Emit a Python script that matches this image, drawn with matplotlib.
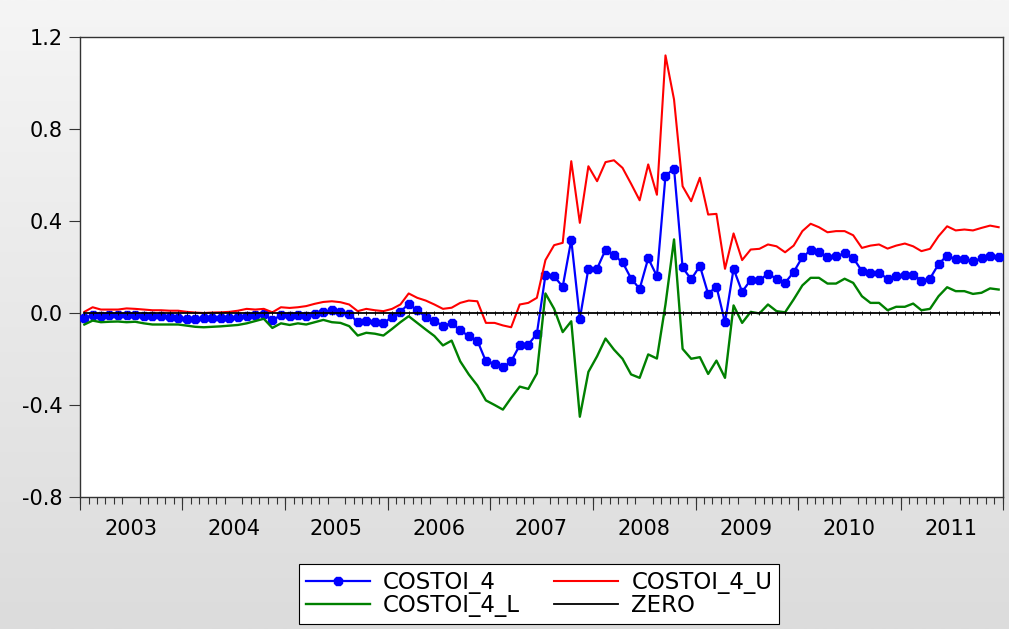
import numpy as np
import pandas as pd
import matplotlib
matplotlib.use("Agg")
import matplotlib.pyplot as plt
import matplotlib.dates as mdates
from matplotlib.colors import LinearSegmentedColormap
from matplotlib.lines import Line2D

plt.rcParams['font.family'] = ['DejaVu Sans']

# Monthly observations, 2003M01 - 2011M12
start_month = "2003-01"
n_obs = 108

costoi_4 = [
    -0.02, -0.01, -0.012, -0.01, -0.01, -0.008, -0.01, -0.012, -0.015, -0.015, -0.018, -0.02,
    -0.025, -0.025, -0.022, -0.022, -0.022, -0.02, -0.018, -0.012, -0.008, -0.005, -0.03, -0.01,
    -0.012, -0.008, -0.012, -0.005, 0.005, 0.011, 0.005, -0.003, -0.04, -0.033, -0.04, -0.043,
    -0.018, 0.005, 0.04, 0.011, -0.017, -0.033, -0.057, -0.043, -0.076, -0.10, -0.12, -0.21,
    -0.22, -0.236, -0.21, -0.14, -0.137, -0.09, 0.164, 0.160, 0.114, 0.318, -0.025, 0.193,
    0.193, 0.275, 0.251, 0.221, 0.15, 0.105, 0.238, 0.16, 0.596, 0.628, 0.198, 0.146,
    0.205, 0.083, 0.115, -0.041, 0.192, 0.092, 0.144, 0.144, 0.169, 0.15, 0.131, 0.178,
    0.243, 0.272, 0.266, 0.243, 0.247, 0.259, 0.24, 0.182, 0.172, 0.173, 0.15, 0.163,
    0.167, 0.167, 0.141, 0.15, 0.212, 0.25, 0.233, 0.233, 0.225, 0.237, 0.25, 0.243,
]

costoi_4_u = [
    0.005, 0.025, 0.015, 0.015, 0.015, 0.02, 0.018, 0.015, 0.012, 0.012, 0.01, 0.01,
    0.005, 0.002, 0.0, 0.002, 0.003, 0.005, 0.01, 0.018, 0.015, 0.018, 0.003, 0.025,
    0.022, 0.025, 0.03, 0.04, 0.048, 0.051, 0.047, 0.037, 0.008, 0.018, 0.012, 0.008,
    0.018, 0.037, 0.085, 0.066, 0.054, 0.037, 0.018, 0.023, 0.044, 0.054, 0.051, -0.043,
    -0.043, -0.054, -0.062, 0.037, 0.044, 0.066, 0.23, 0.295, 0.305, 0.66, 0.392, 0.638,
    0.573, 0.656, 0.664, 0.631, 0.562, 0.49, 0.646, 0.514, 1.12, 0.928, 0.551, 0.486,
    0.588, 0.428, 0.431, 0.192, 0.346, 0.23, 0.276, 0.279, 0.298, 0.29, 0.264, 0.293,
    0.356, 0.388, 0.373, 0.351, 0.356, 0.356, 0.338, 0.283, 0.293, 0.298, 0.28, 0.293,
    0.302, 0.29, 0.269, 0.279, 0.334, 0.377, 0.359, 0.363, 0.359, 0.37, 0.38, 0.373,
]

costoi_4_l = [
    -0.05, -0.033, -0.04, -0.038, -0.037, -0.04, -0.038, -0.045, -0.05, -0.05, -0.05, -0.05,
    -0.055, -0.06, -0.062, -0.06, -0.058, -0.055, -0.052, -0.045, -0.035, -0.025, -0.065, -0.045,
    -0.052, -0.045, -0.05, -0.04, -0.03, -0.04, -0.043, -0.057, -0.098, -0.086, -0.09, -0.098,
    -0.069, -0.04, -0.014, -0.043, -0.072, -0.1, -0.141, -0.12, -0.21, -0.267, -0.315, -0.38,
    -0.40, -0.42, -0.369, -0.32, -0.33, -0.263, 0.085, 0.018, -0.083, -0.036, -0.451, -0.256,
    -0.188, -0.111, -0.159, -0.199, -0.267, -0.282, -0.18, -0.198, 0.037, 0.32, -0.156, -0.199,
    -0.192, -0.265, -0.207, -0.282, 0.033, -0.043, 0.005, -0.002, 0.037, 0.008, 0.003, 0.059,
    0.12, 0.153, 0.153, 0.128, 0.128, 0.149, 0.131, 0.073, 0.044, 0.044, 0.012, 0.027,
    0.027, 0.041, 0.012, 0.018, 0.073, 0.112, 0.095, 0.095, 0.083, 0.088, 0.107, 0.102,
]

zero = [0.0] * n_obs

year_labels = ["2003", "2004", "2005", "2006", "2007", "2008", "2009", "2010", "2011"]
y_ticks = [-0.8, -0.4, 0.0, 0.4, 0.8, 1.2]

# Each observation is plotted at the middle of its month
month_starts = pd.date_range(start_month, periods=n_obs + 1, freq="MS")
dates = month_starts[:-1] + (month_starts[1:] - month_starts[:-1]) / 2

fig = plt.figure(figsize=(10.09, 6.29), dpi=100)

# Soft grey vertical gradient behind the whole figure
bg = fig.add_axes([0, 0, 1, 1], zorder=-10)
grad = np.linspace(0, 1, 256).reshape(-1, 1)
cmap = LinearSegmentedColormap.from_list("bg", ["#f5f5f5", "#dcdcdc"])
bg.imshow(grad, aspect="auto", cmap=cmap, extent=[0, 1, 0, 1], origin="upper")
bg.set_axis_off()

ax = fig.add_axes([80 / 1009, 1 - 497 / 629, 923 / 1009, 460 / 629])
ax.set_facecolor("white")

ax.plot(dates, costoi_4, color="#0000ff", lw=1.6, marker="8", ms=6.5,
        mec="#0000ff", mfc="#0000ff", zorder=3)
ax.plot(dates, costoi_4_u, color="#ff0000", lw=1.5, zorder=4)
ax.plot(dates, costoi_4_l, color="#008000", lw=1.7, zorder=4)
ax.plot(dates, zero, color="black", lw=1.3, zorder=5)
ax.plot(dates, zero, color="black", lw=0, marker="|", ms=3, mew=0.6, zorder=5)

ax.set_ylim(-0.8, 1.2)
ax.set_xlim(month_starts[0], month_starts[-1])
ax.set_yticks(y_ticks)
ax.set_yticklabels([f"{v:.1f}" for v in y_ticks])

# Year labels sit in the middle of each year; month ticks along the axis
years = pd.to_datetime([f"{y}-07-01" for y in year_labels])
ax.set_xticks(years)
ax.set_xticklabels(year_labels)
ax.xaxis.set_minor_locator(mdates.MonthLocator())
ax.tick_params(axis="x", which="major", length=0, pad=15.5, labelsize=15)
ax.tick_params(axis="x", which="minor", length=5, width=0.8, color="#333333")
ax.tick_params(axis="y", length=8, width=0.8, pad=4.5, labelsize=15, color="#333333")

sec = ax.secondary_xaxis("bottom")
sec.set_xticks(pd.to_datetime([f"{y}-01-01" for y in year_labels] + ["2012-01-01"]))
sec.tick_params(axis="x", length=9, width=0.8, labelbottom=False, color="#333333")
for s in sec.spines.values():
    s.set_visible(False)

for s in ax.spines.values():
    s.set_color("#333333")
    s.set_linewidth(1.0)

handles = [
    Line2D([], [], color="#0000ff", lw=1.6, marker="8", ms=6, mfc="#0000ff", mec="#0000ff"),
    Line2D([], [], color="#008000", lw=1.7),
    Line2D([], [], color="#ff0000", lw=1.5),
    Line2D([], [], color="black", lw=1.3),
]
labels = ["COSTOI_4", "COSTOI_4_L", "COSTOI_4_U", "ZERO"]
leg = fig.legend(handles, labels, ncol=2, loc="center",
                 bbox_to_anchor=(539 / 1009, 1 - 594 / 629),
                 fontsize=16.5, frameon=True, fancybox=False, framealpha=1,
                 edgecolor="black", handlelength=2.8, handletextpad=0.57,
                 columnspacing=1.5, labelspacing=0.0, borderpad=0.3, numpoints=1)
leg.get_frame().set_linewidth(0.8)

fig.savefig("out.png", dpi=100)
